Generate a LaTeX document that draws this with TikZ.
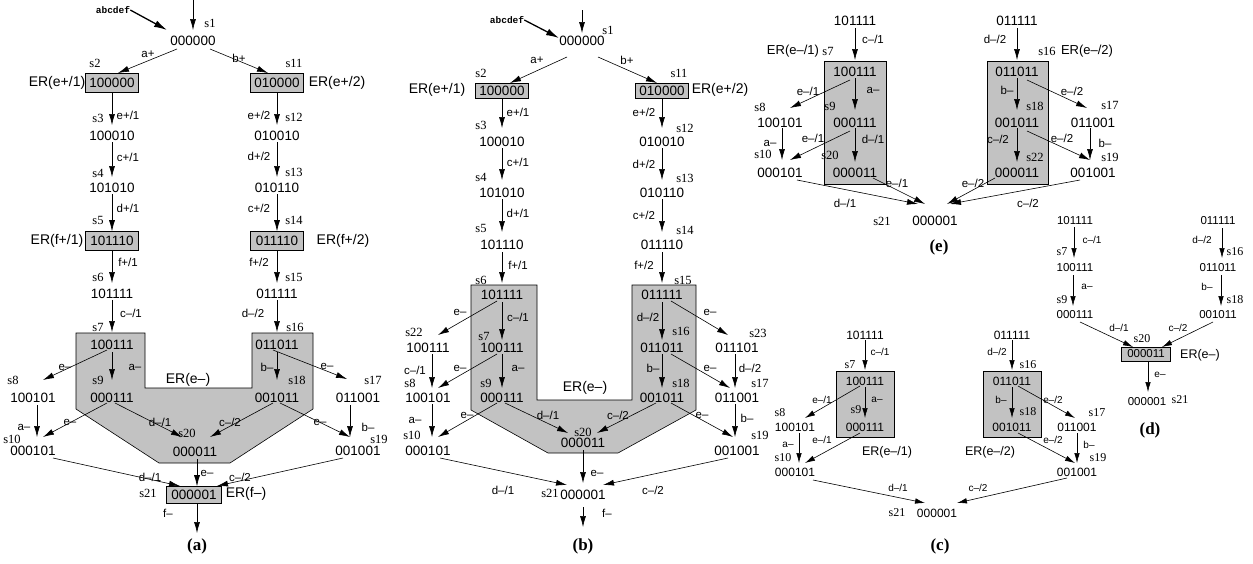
\documentclass[tikz,border=0pt]{standalone}
\usepackage{fontspec}
\setmainfont{Liberation Sans}
\newfontfamily\tms{Liberation Serif}
\newfontfamily\monof{Liberation Mono}
\usetikzlibrary{arrows.meta}
\definecolor{shade}{gray}{0.76}
\newcommand\cnx[4]{\draw[ar] ([shift={#2}]#1.center) -- ([shift={#4}]#3.center);}
\begin{document}
\begin{tikzpicture}[x=1pt,y=-1pt,
 st/.style={font=\fontsize{13.5}{14}\selectfont,inner sep=0pt},
 bx/.style={st,draw,fill=shade,line width=0.6pt,minimum width=53pt,minimum height=19pt},
 bxs/.style={st,draw,fill=shade,line width=0.6pt,minimum width=53pt,minimum height=15pt},
 lb/.style={font=\fontsize{11.5}{12}\selectfont,inner sep=0pt},
 sl/.style={font=\tms\fontsize{12.5}{13}\selectfont,inner sep=0pt},
 er/.style={font=\fontsize{14}{15}\selectfont,inner sep=0pt},
 pl/.style={font=\tms\bfseries\fontsize{17}{18}\selectfont,inner sep=0pt},
 ab/.style={font=\monof\bfseries\fontsize{9.5}{10}\selectfont,inner sep=0pt},
 ar/.style={-{Latex[length=11pt,width=6pt]},line width=0.6pt},
 arB/.style={-{Latex[length=13pt,width=7pt]},line width=1.3pt},
 sh/.style={fill=shade,draw=black,line width=0.6pt}]
\useasboundingbox (0,0) rectangle (1253,563);

% ================= (a) =================
\path[sh] (76,333) -- (76,409) -- (159,463) -- (230,463) -- (313,409) -- (313,333) -- (252,333) -- (252,388) -- (145,388) -- (145,333) -- cycle;
\node[st] (a1) at (193,41) {000000};
\node[bx] (a2) at (112,83) {100000};
\node[bx] (a11) at (277,83) {010000};
\node[st] (a3) at (112,136) {100010};
\node[st] (a12) at (277,136) {010010};
\node[st] (a4) at (112,188) {101010};
\node[st] (a13) at (277,188) {010110};
\node[bx] (a5) at (112,241) {101110};
\node[bx] (a14) at (277,241) {011110};
\node[st] (a6) at (112,294) {101111};
\node[st] (a15) at (277,294) {011111};
\node[st] (a7) at (112,345) {100111};
\node[st] (a16) at (277,345) {011011};
\node[st] (a9) at (112,398) {000111};
\node[st] (a18) at (277,398) {001011};
\node[st] (a8) at (33,398) {100101};
\node[st] (a17) at (358,398) {011001};
\node[st] (a10) at (33,451) {000101};
\node[st] (a19) at (358,451) {001001};
\node[st] (a20) at (195,452) {000011};
\node[bx,minimum width=55pt,minimum height=17pt] (a21) at (194,495) {000001};

\coordinate (a0) at (193,0);
\draw[ar] (a0) -- ([shift={(0,-11)}]a1.center);
\node[ab] (abA) at (113,10) {abcdef};
\draw[arB] (abA.east) -- ([shift={(-26,-11)}]a1.center);
\cnx{a1}{(-16,8)}{a2}{(6,-10)}
\cnx{a1}{(17,8)}{a11}{(-9,-10)}
\draw[ar] (a2.south) -- ([shift={(0,-11)}]a3.center);
\cnx{a3}{(0,6)}{a4}{(0,-11)}
\draw[ar] ([shift={(0,6)}]a4.center) -- (a5.north);
\draw[ar] (a5.south) -- ([shift={(0,-11)}]a6.center);
\draw[ar] (a11.south) -- ([shift={(0,-11)}]a12.center);
\cnx{a12}{(0,6)}{a13}{(0,-11)}
\draw[ar] ([shift={(0,6)}]a13.center) -- (a14.north);
\draw[ar] (a14.south) -- ([shift={(0,-11)}]a15.center);
\cnx{a6}{(0,6)}{a7}{(0,-13)}
\cnx{a15}{(0,6)}{a16}{(0,-13)}
\cnx{a7}{(-5,5)}{a8}{(10,-18)}
\cnx{a7}{(0,7)}{a9}{(0,-18)}
\cnx{a16}{(-4,5)}{a17}{(-11,-19)}
\cnx{a16}{(0,7)}{a18}{(0,-18)}
\cnx{a8}{(4,7)}{a10}{(4,-14)}
\cnx{a9}{(-5,5)}{a10}{(10,-14)}
\cnx{a9}{(3,5)}{a20}{(-13,-15)}
\cnx{a18}{(-4,5)}{a20}{(15,-15)}
\cnx{a18}{(3,5)}{a19}{(-8,-14)}
\cnx{a17}{(-8,7)}{a19}{(-8,-14)}
\cnx{a10}{(20,7)}{a21}{(-14,-9)}
\cnx{a19}{(-15,7)}{a21}{(23,-9)}
\draw[ar] ([shift={(2,7)}]a20.center) -- ([shift={(3,0)}]a21.north);
\coordinate (aout) at (197,533);
\draw[ar] ([shift={(3,0)}]a21.south) -- (aout);

\node[sl] (as1) at (210,23) {s1};
\node[sl] (as2) at (95,63) {s2};
\node[sl] (as11) at (294,63) {s11};
\node[sl] (as3) at (98,118) {s3};
\node[sl] (as12) at (294,117) {s12};
\node[sl] (as4) at (98,173) {s4};
\node[sl] (as13) at (294,172) {s13};
\node[sl] (as5) at (98,220) {s5};
\node[sl] (as14) at (294,220) {s14};
\node[sl] (as6) at (98,277) {s6};
\node[sl] (as15) at (294,277) {s15};
\node[sl] (as7) at (98,327) {s7};
\node[sl] (as16) at (295,327) {s16};
\node[sl] (as9) at (98,380) {s9};
\node[sl] (as18) at (297,380) {s18};
\node[sl] (as8) at (13,380) {s8};
\node[sl] (as17) at (373,380) {s17};
\node[sl] (as10) at (12,439) {s10};
\node[sl] (as19) at (379,439) {s19};
\node[sl] (as20) at (187,433) {s20};
\node[sl] (as21) at (148,493) {s21};

\node[lb] (al1) at (148,54) {a+};
\node[lb] (al2) at (239,58) {b+};
\node[lb] (al3) at (128,115) {e+/1};
\node[lb] (al4) at (259,115) {e+/2};
\node[lb] (al5) at (128,157) {c+/1};
\node[lb] (al6) at (259,156) {d+/2};
\node[lb] (al7) at (128,208) {d+/1};
\node[lb] (al8) at (259,208) {c+/2};
\node[lb] (al9) at (128,262) {f+/1};
\node[lb] (al10) at (259,262) {f+/2};
\node[lb] (al11) at (131,313) {c–/1};
\node[lb] (al12) at (253,313) {d–/2};
\node[lb] (al13) at (65,367) {e–};
\node[lb] (al14) at (135,367) {a–};
\node[lb] (al15) at (267,367) {b–};
\node[lb] (al16) at (327,366) {e–};
\node[lb] (al17) at (24,427) {a–};
\node[lb] (al18) at (70,422) {e–};
\node[lb] (al19) at (160,422) {d–/1};
\node[lb] (al20) at (230,422) {c–/2};
\node[lb] (al21) at (320,422) {e–};
\node[lb] (al22) at (368,427) {b–};
\node[lb] (al23) at (150,477) {d–/1};
\node[lb] (al24) at (207,473) {e–};
\node[lb] (al25) at (240,477) {c–/2};
\node[lb] (al26) at (168,513) {f–};
\node[er] (ae1) at (57,83) {ER(e+/1)};
\node[er] (ae2) at (337,83) {ER(e+/2)};
\node[er] (ae3) at (57,241) {ER(f+/1)};
\node[er] (ae4) at (343,241) {ER(f+/2)};
\node[er] (ae5) at (188,380) {ER(e–)};
\node[er] (ae6) at (246,494) {ER(f–)};
\node[pl] (pa) at (197,546) {(a)};

% ================= (b) =================
\path[sh] (471,285) -- (471,410) -- (548,453) -- (618,453) -- (696,410) -- (696,285) -- (632,285) -- (632,400) -- (537,400) -- (537,285) -- cycle;
\node[st] (b1) at (582,41) {000000};
\node[bxs] (b2) at (502,91) {100000};
\node[bxs] (b11) at (662,91) {010000};
\node[st] (b3) at (502,142) {100010};
\node[st] (b12) at (662,142) {010010};
\node[st] (b4) at (502,193) {101010};
\node[st] (b13) at (662,193) {010110};
\node[st] (b5) at (502,245) {101110};
\node[st] (b14) at (662,245) {011110};
\node[st] (b6) at (502,295) {101111};
\node[st] (b15) at (662,295) {011111};
\node[st] (b7) at (502,348) {100111};
\node[st] (b16) at (662,348) {011011};
\node[st] (b9) at (502,398) {000111};
\node[st] (b18) at (662,398) {001011};
\node[st] (b20) at (583,443) {000011};
\node[st] (b22) at (428,348) {100111};
\node[st] (b8) at (428,398) {100101};
\node[st] (b10) at (428,451) {000101};
\node[st] (b23) at (737,348) {011101};
\node[st] (b17) at (737,398) {011001};
\node[st] (b19) at (737,451) {001001};
\node[st] (b21) at (583,495) {000001};

\coordinate (b0) at (582,10);
\draw[ar] (b0) -- ([shift={(0,-8)}]b1.center);
\node[ab] (abB) at (507,20) {abcdef};
\draw[arB] (abB.east) -- ([shift={(-23,-3)}]b1.center);
\cnx{b1}{(-15,16)}{b2}{(8,-8)}
\cnx{b1}{(16,16)}{b11}{(-5,-8)}
\draw[ar] (b2.south) -- ([shift={(0,-14)}]b3.center);
\cnx{b3}{(0,6)}{b4}{(0,-13)}
\cnx{b4}{(0,6)}{b5}{(0,-13)}
\cnx{b5}{(0,7)}{b6}{(0,-12)}
\draw[ar] (b11.south) -- ([shift={(0,-14)}]b12.center);
\cnx{b12}{(0,6)}{b13}{(0,-13)}
\cnx{b13}{(0,6)}{b14}{(0,-13)}
\cnx{b14}{(0,7)}{b15}{(0,-12)}
\cnx{b6}{(0,7)}{b7}{(0,-8)}
\cnx{b15}{(0,7)}{b16}{(0,-8)}
\cnx{b7}{(0,6)}{b9}{(0,-10)}
\cnx{b16}{(0,6)}{b18}{(0,-10)}
\cnx{b6}{(-5,6)}{b22}{(10,-13)}
\cnx{b15}{(9,6)}{b23}{(-9,-13)}
\cnx{b22}{(4,6)}{b8}{(4,-10)}
\cnx{b7}{(-5,6)}{b8}{(10,-10)}
\cnx{b16}{(9,6)}{b17}{(-7,-10)}
\cnx{b23}{(-2,6)}{b17}{(-2,-10)}
\cnx{b8}{(4,6)}{b10}{(4,-14)}
\cnx{b9}{(-5,5)}{b10}{(10,-14)}
\cnx{b9}{(3,5)}{b20}{(-15,-10)}
\cnx{b18}{(-6,5)}{b20}{(14,-10)}
\cnx{b18}{(9,5)}{b19}{(-4,-14)}
\cnx{b17}{(-2,6)}{b19}{(-2,-14)}
\cnx{b10}{(12,7)}{b21}{(-16,-10)}
\cnx{b19}{(-9,7)}{b21}{(20,-10)}
\cnx{b20}{(0,7)}{b21}{(0,-12)}
\coordinate (bout) at (583,527);
\draw[ar] ([shift={(0,12)}]b21.center) -- (bout);

\node[sl] (bs1) at (608,30) {s1};
\node[sl] (bs2) at (481,73) {s2};
\node[sl] (bs11) at (679,73) {s11};
\node[sl] (bs3) at (481,125) {s3};
\node[sl] (bs12) at (685,128) {s12};
\node[sl] (bs4) at (481,177) {s4};
\node[sl] (bs13) at (685,178) {s13};
\node[sl] (bs5) at (481,228) {s5};
\node[sl] (bs14) at (685,230) {s14};
\node[sl] (bs6) at (481,280) {s6};
\node[sl] (bs15) at (683,280) {s15};
\node[sl] (bs7) at (484,336) {s7};
\node[sl] (bs16) at (681,331) {s16};
\node[sl] (bs9) at (486,383) {s9};
\node[sl] (bs18) at (681,383) {s18};
\node[sl] (bs22) at (414,332) {s22};
\node[sl] (bs8) at (410,383) {s8};
\node[sl] (bs10) at (412,435) {s10};
\node[sl] (bs23) at (758,333) {s23};
\node[sl] (bs17) at (760,383) {s17};
\node[sl] (bs19) at (760,435) {s19};
\node[sl] (bs20) at (583,432) {s20};
\node[sl] (bs21) at (550,493) {s21};

\node[lb] (bl1) at (537,60) {a+};
\node[lb] (bl2) at (627,60) {b+};
\node[lb] (bl3) at (518,112) {e+/1};
\node[lb] (bl4) at (644,112) {e+/2};
\node[lb] (bl5) at (518,162) {c+/1};
\node[lb] (bl6) at (644,164) {d+/2};
\node[lb] (bl7) at (518,213) {d+/1};
\node[lb] (bl8) at (644,215) {c+/2};
\node[lb] (bl9) at (518,265) {f+/1};
\node[lb] (bl10) at (644,265) {f+/2};
\node[lb] (bl11) at (518,317) {c–/1};
\node[lb] (bl12) at (648,317) {d–/2};
\node[lb] (bl13) at (518,368) {a–};
\node[lb] (bl14) at (653,368) {b–};
\node[lb] (bl15) at (460,312) {e–};
\node[lb] (bl16) at (710,312) {e–};
\node[lb] (bl17) at (415,370) {c–/1};
\node[lb] (bl18) at (750,368) {d–/2};
\node[lb] (bl19) at (460,368) {e–};
\node[lb] (bl20) at (710,368) {e–};
\node[lb] (bl21) at (415,420) {a–};
\node[lb] (bl22) at (747,418) {b–};
\node[lb] (bl23) at (467,415) {e–};
\node[lb] (bl24) at (702,415) {e–};
\node[lb] (bl25) at (548,415) {d–/1};
\node[lb] (bl26) at (618,415) {c–/2};
\node[lb] (bl27) at (597,473) {e–};
\node[lb] (bl28) at (503,490) {d–/1};
\node[lb] (bl29) at (653,490) {c–/2};
\node[lb] (bl30) at (607,513) {f–};
\node[er] (be1) at (437,90) {ER(e+/1)};
\node[er] (be2) at (720,90) {ER(e+/2)};
\node[er] (be3) at (585,388) {ER(e–)};
\node[pl] (pb) at (583,546) {(b)};

% ================= (e) =================
\path[sh] (824,61) rectangle (886,184);
\path[sh] (987,61) rectangle (1048,184);
\node[st] (e6) at (855,21) {101111};
\node[st] (e15) at (1017,21) {011111};
\node[st] (e7) at (855,72) {100111};
\node[st] (e9) at (855,123) {000111};
\node[st] (e20) at (855,173) {000011};
\node[st] (e16) at (1017,72) {011011};
\node[st] (e18) at (1017,123) {001011};
\node[st] (e22) at (1017,173) {000011};
\node[st] (e8) at (780,123) {100101};
\node[st] (e10) at (780,173) {000101};
\node[st] (e17) at (1093,123) {011001};
\node[st] (e19) at (1093,173) {001001};
\node[st] (e21) at (935,221) {000001};

\cnx{e6}{(0,7)}{e7}{(0,-12)}
\cnx{e15}{(0,7)}{e16}{(0,-12)}
\cnx{e7}{(0,6)}{e9}{(0,-13)}
\cnx{e9}{(0,5)}{e20}{(0,-11)}
\cnx{e16}{(0,6)}{e18}{(0,-13)}
\cnx{e18}{(0,5)}{e22}{(0,-11)}
\cnx{e7}{(-5,8)}{e8}{(10,-15)}
\cnx{e9}{(-5,8)}{e10}{(10,-13)}
\cnx{e8}{(2,5)}{e10}{(2,-13)}
\cnx{e16}{(10,8)}{e17}{(-6,-15)}
\cnx{e18}{(10,8)}{e19}{(-3,-13)}
\cnx{e17}{(-3,5)}{e19}{(-3,-13)}
\cnx{e20}{(18,5)}{e21}{(-10,-17)}
\cnx{e22}{(-22,5)}{e21}{(12,-17)}
\cnx{e10}{(17,7)}{e21}{(-17,-17)}
\cnx{e19}{(-13,7)}{e21}{(15,-17)}

\node[sl] (es7) at (828,51) {s7};
\node[sl] (es16) at (1047,51) {s16};
\node[sl] (es9) at (830,106) {s9};
\node[sl] (es20) at (830,155) {s20};
\node[sl] (es18) at (1035,106) {s18};
\node[sl] (es22) at (1035,157) {s22};
\node[sl] (es8) at (760,107) {s8};
\node[sl] (es10) at (763,154) {s10};
\node[sl] (es17) at (1110,105) {s17};
\node[sl] (es19) at (1110,157) {s19};
\node[sl] (es21) at (882,221) {s21};

\node[lb] (el1) at (873,39) {c–/1};
\node[lb] (el2) at (995,39) {d–/2};
\node[lb] (el3) at (873,90) {a–};
\node[lb] (el4) at (873,139) {d–/1};
\node[lb] (el5) at (1007,90) {b–};
\node[lb] (el6) at (998,139) {c–/2};
\node[lb] (el7) at (808,91) {e–/1};
\node[lb] (el8) at (770,143) {a–};
\node[lb] (el9) at (813,138) {e–/1};
\node[lb] (el10) at (1072,91) {e–/2};
\node[lb] (el11) at (1062,138) {e–/2};
\node[lb] (el12) at (1105,143) {b–};
\node[lb] (el13) at (897,183) {e–/1};
\node[lb] (el14) at (973,183) {e–/2};
\node[lb] (el15) at (845,203) {d–/1};
\node[lb] (el16) at (1028,203) {c–/2};
\node[er,font=\fontsize{13}{14}\selectfont] (ee1) at (793,51) {ER(e–/1)};
\node[er,font=\fontsize{13}{14}\selectfont] (ee2) at (1087,51) {ER(e–/2)};
\node[pl] (pe) at (939,247) {(e)};

% ================= (c) =================
\begin{scope}[st/.style={font=\fontsize{12}{13}\selectfont,inner sep=0pt},
 lb/.style={font=\fontsize{10}{11}\selectfont,inner sep=0pt},
 sl/.style={font=\tms\fontsize{12}{13}\selectfont,inner sep=0pt},
 er/.style={font=\fontsize{12.5}{13}\selectfont,inner sep=0pt},
 ar/.style={-{Latex[length=10pt,width=5.5pt]},line width=0.6pt}]
\path[sh] (836,371) rectangle (894,437);
\path[sh] (983,371) rectangle (1041,437);
\node[st] (c6) at (865,335) {101111};
\node[st] (c15) at (1012,335) {011111};
\node[st] (c7) at (865,381) {100111};
\node[st] (c9) at (865,427) {000111};
\node[st] (c16) at (1012,381) {011011};
\node[st] (c18) at (1012,427) {001011};
\node[st] (c8) at (795,427) {100101};
\node[st] (c10) at (795,472) {000101};
\node[st] (c17) at (1077,427) {011001};
\node[st] (c19) at (1077,472) {001001};
\node[st] (c21) at (937,513) {000001};

\cnx{c6}{(0,5)}{c7}{(0,-11)}
\cnx{c15}{(0,5)}{c16}{(0,-11)}
\cnx{c7}{(0,6)}{c9}{(0,-9)}
\cnx{c16}{(0,6)}{c18}{(0,-9)}
\cnx{c7}{(-5,5)}{c8}{(10,-9)}
\cnx{c9}{(-5,6)}{c10}{(10,-9)}
\cnx{c8}{(4,6)}{c10}{(4,-9)}
\cnx{c16}{(6,5)}{c17}{(-2,-9)}
\cnx{c18}{(6,6)}{c19}{(-2,-9)}
\cnx{c17}{(0,6)}{c19}{(0,-9)}
\cnx{c10}{(18,8)}{c21}{(-12,-10)}
\cnx{c19}{(-10,6)}{c21}{(20,-10)}

\node[sl] (cs7) at (850,365) {s7};
\node[sl] (cs16) at (1028,365) {s16};
\node[sl] (cs9) at (856,410) {s9};
\node[sl] (cs18) at (1028,412) {s18};
\node[sl] (cs8) at (780,413) {s8};
\node[sl] (cs10) at (783,458) {s10};
\node[sl] (cs17) at (1097,413) {s17};
\node[sl] (cs19) at (1098,458) {s19};
\node[sl] (cs21) at (897,513) {s21};

\node[lb] (cl1) at (880,352) {c–/1};
\node[lb] (cl2) at (997,352) {d–/2};
\node[lb] (cl3) at (877,400) {a–};
\node[lb] (cl4) at (1001,400) {b–};
\node[lb] (cl5) at (822,400) {e–/1};
\node[lb] (cl6) at (822,440) {e–/1};
\node[lb] (cl7) at (788,445) {a–};
\node[lb] (cl8) at (1053,400) {e–/2};
\node[lb] (cl9) at (1053,440) {e–/2};
\node[lb] (cl10) at (1089,445) {b–};
\node[lb] (cl11) at (898,488) {d–/1};
\node[lb] (cl12) at (978,488) {c–/2};
\node[er] (ce1) at (887,452) {ER(e–/1)};
\node[er] (ce2) at (990,452) {ER(e–/2)};
\node[pl] (pc) at (940,546) {(c)};
\end{scope}

% ================= (d) =================
\begin{scope}[st/.style={font=\fontsize{11.5}{12}\selectfont,inner sep=0pt},
 lb/.style={font=\fontsize{10}{11}\selectfont,inner sep=0pt},
 sl/.style={font=\tms\fontsize{12}{13}\selectfont,inner sep=0pt},
 er/.style={font=\fontsize{12.5}{13}\selectfont,inner sep=0pt},
 ar/.style={-{Latex[length=10pt,width=5.5pt]},line width=0.6pt}]
\node[st] (d6) at (1075,221) {101111};
\node[st] (d15) at (1218,221) {011111};
\node[st] (d7) at (1075,268) {100111};
\node[st] (d16) at (1218,268) {011011};
\node[st] (d9) at (1075,315) {000111};
\node[st] (d18) at (1218,315) {001011};
\node[st,draw,fill=shade,line width=0.6pt,minimum width=49pt,minimum height=14pt] (d20) at (1146,354) {000011};
\node[st] (d21) at (1147,402) {000001};

\cnx{d6}{(-1,6)}{d7}{(-1,-10)}
\cnx{d7}{(-2,7)}{d9}{(-2,-9)}
\cnx{d15}{(4,7)}{d16}{(4,-10)}
\cnx{d16}{(3,7)}{d18}{(3,-9)}
\cnx{d9}{(5,7)}{d20}{(-13,-7)}
\cnx{d18}{(-5,7)}{d20}{(16,-7)}
\cnx{d20}{(2,7)}{d21}{(1,-10)}

\node[sl] (ds7) at (1062,252) {s7};
\node[sl] (ds16) at (1235,252) {s16};
\node[sl] (ds9) at (1062,300) {s9};
\node[sl] (ds18) at (1235,300) {s18};
\node[sl] (ds20) at (1142,339) {s20};
\node[sl] (ds21) at (1180,400) {s21};
\node[lb] (dl1) at (1092,240) {c–/1};
\node[lb] (dl2) at (1202,240) {d–/2};
\node[lb] (dl3) at (1087,287) {a–};
\node[lb] (dl4) at (1207,287) {b–};
\node[lb] (dl5) at (1119,328) {d–/1};
\node[lb] (dl6) at (1178,328) {c–/2};
\node[lb] (dl7) at (1160,375) {e–};
\node[er] (de1) at (1200,355) {ER(e–)};
\node[pl] (pd) at (1150,430) {(d)};
\end{scope}
\end{tikzpicture}
\end{document}
